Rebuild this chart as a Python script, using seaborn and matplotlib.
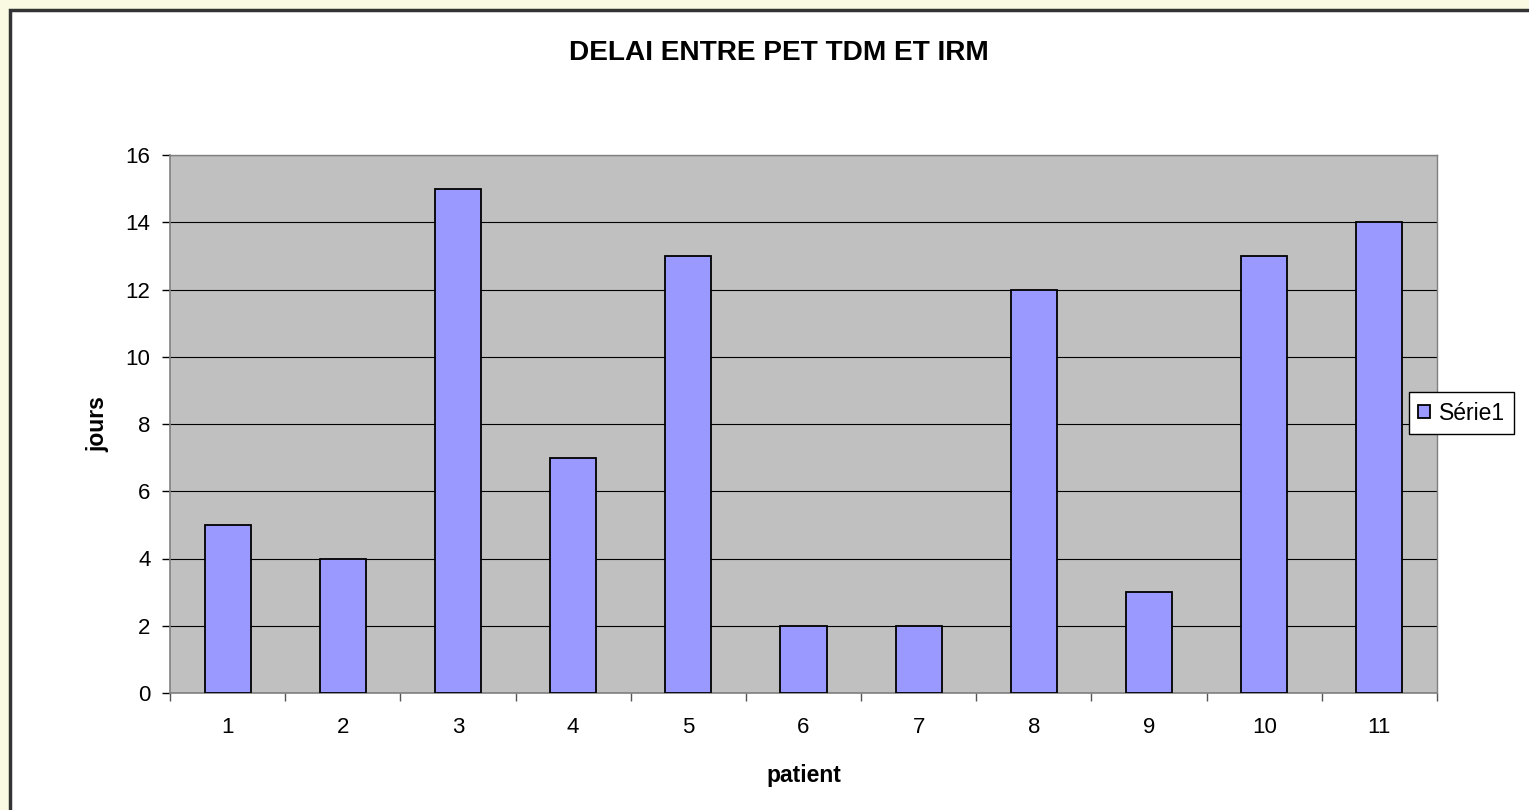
import matplotlib
matplotlib.use('Agg')
import matplotlib.pyplot as plt
from matplotlib.patches import Rectangle
from matplotlib.ticker import FixedLocator, MultipleLocator
import seaborn as sns
import pandas as pd

# ── Data ───────────────────────────────────────────────────────────────
patients = ['1', '2', '3', '4', '5', '6', '7', '8', '9', '10', '11']
jours = [5, 4, 15, 7, 13, 2, 2, 12, 3, 13, 14]
series_name = 'Série1'

df = pd.DataFrame({'patient': patients, 'jours': jours})

# ── Style ──────────────────────────────────────────────────────────────
sns.set_style('white', {'text.color': 'black', 'axes.labelcolor': 'black',
                        'xtick.color': 'black', 'ytick.color': 'black'})
plt.rcParams['font.family'] = ['Liberation Sans', 'DejaVu Sans']

W, H = 1529, 810
fig = plt.figure(figsize=(W / 100, H / 100), dpi=100)
fig.patch.set_facecolor('#FAFAE3')

# white chart area with dark frame (only top/left edges inside the image)
fig.patches.append(Rectangle((10 / W, -0.1), 1.2, 1.1 - 10 / H,
                             transform=fig.transFigure, facecolor='white',
                             edgecolor='#333333', linewidth=2.5, zorder=-5))

ax = fig.add_axes([170 / W, 1 - 693 / H, (1437 - 170) / W, (693 - 155) / H])
ax.set_facecolor('#C0C0C0')

sns.barplot(data=df, x='patient', y='jours', color='#9999FF', width=0.4,
            edgecolor='black', linewidth=1.3, saturation=1, label=series_name,
            ax=ax, zorder=3)

ax.set_ylim(0, 16)
ax.set_xlim(-0.5, len(patients) - 0.5)
ax.yaxis.set_major_locator(MultipleLocator(2))
ax.yaxis.grid(True, color='black', linewidth=0.8, zorder=1)
ax.set_axisbelow(True)

for side in ['top', 'right']:
    ax.spines[side].set_color('#808080')
    ax.spines[side].set_linewidth(1)
for side in ['left', 'bottom']:
    ax.spines[side].set_color('#808080')
    ax.spines[side].set_linewidth(1.2)

# x ticks: labels centred, tick marks at category boundaries
ax.tick_params(axis='x', which='major', length=0, pad=17, labelsize=16)
ax.xaxis.set_minor_locator(FixedLocator([i - 0.5 for i in range(len(patients) + 1)]))
ax.tick_params(axis='x', which='minor', length=6, width=1, color='#555555',
               direction='out', bottom=True)
ax.tick_params(axis='y', length=6, width=1, color='black', direction='out', pad=8,
               labelsize=16, left=True)

ax.set_xlabel('patient', fontsize=16.5, fontweight='bold')
ax.set_ylabel('jours', fontsize=16.5, fontweight='bold')
ax.xaxis.set_label_coords(0.5, -(764 - 693) / 538)
ax.yaxis.set_label_coords((109 - 170) / 1267, 0.5)

fig.text(779 / W, 1 - 60 / H, 'DELAI ENTRE PET TDM ET IRM', ha='center', va='baseline',
         fontsize=20.2, fontweight='bold', color='black')

leg = ax.legend(loc='center left', bbox_to_anchor=(1409 / W, 1 - 413 / H),
                bbox_transform=fig.transFigure, frameon=True, fancybox=False,
                edgecolor='black', fontsize=16.5, handlelength=0.5, handleheight=0.5,
                handletextpad=0.4, borderpad=0.4, borderaxespad=0)
leg.get_frame().set_linewidth(1)
leg.get_frame().set_facecolor('white')
leg.get_frame().set_alpha(1)

fig.savefig('out.png', dpi=100, facecolor=fig.get_facecolor())
